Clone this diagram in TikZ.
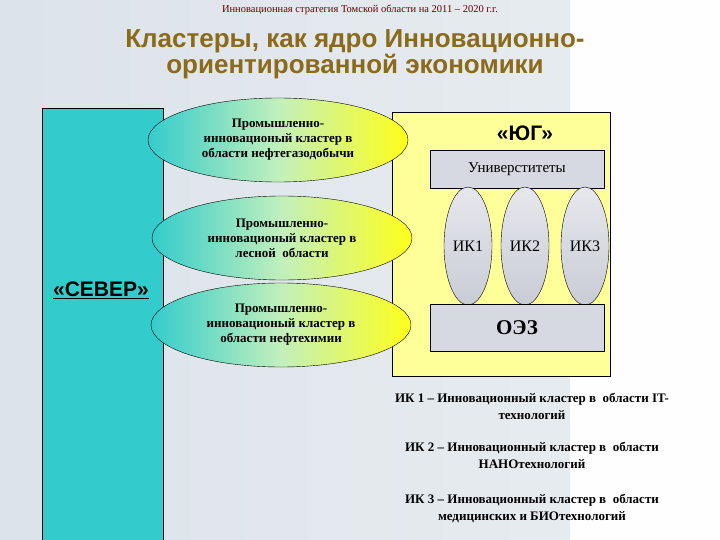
\documentclass[tikz,border=0pt]{standalone}
\usepackage{fontspec}
\setmainfont{Liberation Serif}
\newfontfamily\sansf{Liberation Sans}
\usetikzlibrary{shapes.geometric}
\definecolor{teal1}{HTML}{33CCCC}
\definecolor{ylw}{HTML}{FFFF99}
\definecolor{ttl}{HTML}{8B6A1A}
\definecolor{bgl}{HTML}{DCE3E9}
\definecolor{gry}{HTML}{D6D9E2}
\begin{document}
\begin{tikzpicture}[x=1pt,y=-1pt,
  clu/.style={ellipse,draw,thin,left color=teal1,right color=yellow!90!white,middle color=yellow!40!teal1!50!white,minimum width=260,minimum height=84,inner sep=0,align=center,font=\bfseries\fontsize{13}{15}\selectfont},
  ik/.style={ellipse,draw,thin,top color=gry!60!white,bottom color=gry!80!black!30!gry,minimum width=48,minimum height=118,inner sep=0,font=\fontsize{16}{17}\selectfont},
  gbox/.style={draw,thin,fill=gry,inner sep=0},
  leg/.style={align=center,font=\bfseries\fontsize{13}{17}\selectfont}]
\useasboundingbox (0,0) rectangle (720,540);
\shade[left color=bgl,right color=bgl!70!white] (0,0) rectangle (570,540);
\fill[white!96!bgl] (570,0) rectangle (720,540);
\node (sub) at (360,10) {\color{red!40!black}\fontsize{10.5}{12}\selectfont Инновационная стратегия Томской области на 2011 – 2020 г.г.};
\node (title) [align=center,text=ttl,font=\sansf\bfseries\fontsize{26}{24}\selectfont] at (355,54) {Кластеры, как ядро Инновационно-\\ориентированной экономики};
\node (sever) [draw,thin,fill=teal1,minimum width=121,minimum height=432,anchor=north west,inner sep=0] at (42,108) {};
\node (yug) [draw,thin,fill=ylw,minimum width=218,minimum height=264,anchor=north west,inner sep=0] at (392,112) {};
\node (c1) [clu] at (278,140) {Промышленно-\\инновационый кластер в\\области нефтегазодобычи};
\node (c2) [clu] at (282,238) {Промышленно-\\инновационый кластер в\\лесной\ \ области};
\node (c3) [clu] at (281,325) {Промышленно-\\инновационый кластер в\\области нефтехимии};
\node (severl) at (101,290) {\sansf\bfseries\fontsize{21}{23}\selectfont\underline{«СЕВЕР»}};
\node (yugl) at (525,133) {\sansf\bfseries\fontsize{21}{23}\selectfont «ЮГ»};
\node (univ) [gbox,minimum width=174,minimum height=38] at (517,169) {\fontsize{15}{16}\selectfont Универститеты};
\node (ik1) [ik] at (468,246) {ИК1};
\node (ik2) [ik] at (525,246) {ИК2};
\node (ik3) [ik] at (585,246) {ИК3};
\node (oez) [gbox,minimum width=174,minimum height=47] at (517,328) {\bfseries\fontsize{21}{22}\selectfont ОЭЗ};
\node (l1) [leg] at (532,406) {ИК 1 – Инновационный кластер в\ \ области IT-\\технологий};
\node (l2) [leg] at (532,455) {ИК 2 – Инновационный кластер в\ \ области\\НАНОтехнологий};
\node (l3) [leg] at (532,508) {ИК 3 – Инновационный кластер в\ \ области\\медицинских и БИОтехнологий};
\end{tikzpicture}
\end{document}
